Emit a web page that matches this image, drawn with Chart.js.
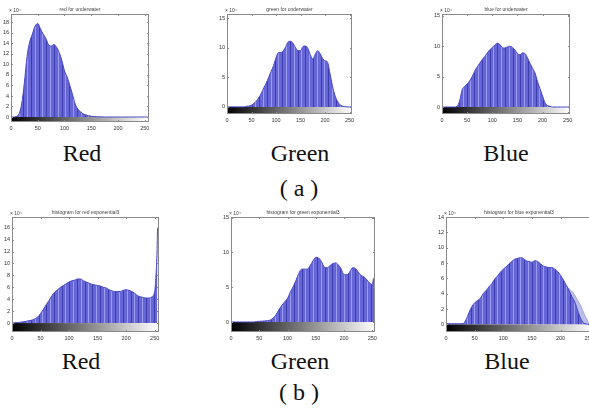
<!DOCTYPE html>
<html lang="en">
<head>
<meta charset="UTF-8">
<title>Histograms</title>
<script src="https://cdn.jsdelivr.net/npm/chart.js@4.4.1/dist/chart.umd.min.js"></script>
<style>
  body { margin: 0; background: #fff; }
  #fig { position: relative; width: 589px; height: 411px; overflow: hidden; background: #fff; }
  #fig canvas { position: absolute; }
  .lbl { position: absolute; width: 120px; text-align: center; font: 24px/24px "Liberation Serif", "Times New Roman", serif; color: #111; }
</style>
</head>
<body>
<div id="fig">
  <div class="lbl" style="left:22px;top:141px">Red</div>
  <div class="lbl" style="left:240px;top:141px">Green</div>
  <div class="lbl" style="left:446px;top:141px">Blue</div>
  <div class="lbl" style="left:239px;top:176px">( a )</div>
  <div class="lbl" style="left:21px;top:349px">Red</div>
  <div class="lbl" style="left:240px;top:349px">Green</div>
  <div class="lbl" style="left:447px;top:349px">Blue</div>
  <div class="lbl" style="left:239px;top:380px">( b )</div>
</div>
<script>
  // gray levels (x positions of the histogram samples)
  const levels = [0, 5, 10, 15, 20, 25, 30, 35, 40, 45, 50, 55, 60, 65, 70, 75, 80, 85, 90, 95,
    100, 105, 110, 115, 120, 125, 130, 135, 140, 145, 150, 155, 160, 165, 170, 175, 180, 185, 190, 195,
    200, 205, 210, 215, 220, 225, 230, 235, 240, 245, 250, 255];
  const levelsSpike = [0, 5, 10, 15, 20, 25, 30, 35, 40, 45, 50, 55, 60, 65, 70, 75, 80, 85, 90, 95,
    100, 105, 110, 115, 120, 125, 130, 135, 140, 145, 150, 155, 160, 165, 170, 175, 180, 185, 190, 195,
    200, 205, 210, 215, 220, 225, 230, 235, 240, 245, 250, 252, 254, 255];
  const fadeLevels = [210, 215, 220, 225, 230, 235, 240, 245, 250, 255];

  // counts, x 10^4
  const redUnder = [0, 0, 0.1, 0.6, 2.5, 6.5, 11.5, 14.3, 15.8, 17.3, 17.8, 16.8, 15.8, 15.0, 13.8, 13.5, 13.8, 13.3, 12.3, 10.8,
    8.8, 7.6, 6.0, 4.3, 2.5, 1.5, 1.0, 0.6, 0.4, 0.25, 0.15, 0.1, 0.05, 0.03, 0.02, 0, 0, 0, 0, 0,
    0, 0, 0, 0, 0, 0, 0, 0, 0, 0, 0, 0];
  const greenUnder = [0, 0, 0, 0, 0, 0, 0, 0, 0.1, 0.15, 0.3, 0.6, 1.0, 1.6, 2.3, 3.2, 4.0, 5.0, 6.0, 7.0,
    8.3, 9.2, 9.2, 9.5, 10.2, 11.0, 11.1, 10.7, 10.0, 9.5, 9.5, 10.2, 10.3, 9.9, 8.8, 8.1, 8.9, 9.5, 9.0, 8.2,
    7.8, 7.6, 5.7, 3.6, 2.0, 1.0, 0.4, 0.15, 0.05, 0, 0, 0];
  const blueUnder = [0, 0, 0, 0, 0, 0, 0.1, 1.0, 2.8, 3.4, 3.8, 4.3, 5.0, 5.9, 6.6, 7.2, 7.8, 8.3, 8.9, 9.4,
    9.8, 10.2, 10.5, 10.3, 9.8, 9.7, 9.9, 10.0, 9.8, 9.4, 8.8, 8.6, 8.9, 8.8, 8.1, 7.2, 6.4, 5.6, 4.2, 3.0,
    1.8, 0.7, 0.25, 0.1, 0, 0, 0, 0, 0, 0, 0, 0];
  const redExp = [0, 0.05, 0.1, 0.15, 0.2, 0.3, 0.4, 0.5, 0.7, 1.0, 1.6, 2.3, 3.1, 3.8, 4.6, 5.2, 5.6, 6.0, 6.3, 6.6,
    6.9, 7.1, 7.2, 7.4, 7.4, 7.1, 6.9, 6.7, 6.5, 6.4, 6.3, 6.2, 6.0, 5.9, 5.6, 5.4, 5.3, 5.3, 5.3, 5.5,
    5.6, 5.5, 5.3, 5.0, 4.6, 4.4, 4.3, 4.2, 4.2, 4.4, 5.3, 7.5, 11.5, 16.0];
  const greenExp = [0, 0, 0, 0, 0, 0, 0, 0, 0, 0.05, 0.1, 0.12, 0.15, 0.2, 0.3, 0.6, 1.1, 1.8, 2.4, 2.9,
    3.4, 4.3, 5.1, 6.0, 7.0, 7.6, 7.6, 7.6, 8.1, 8.8, 9.3, 9.2, 8.7, 7.9, 7.8, 8.1, 8.4, 8.5, 8.2, 7.6,
    6.8, 6.8, 7.2, 7.8, 7.7, 7.2, 6.7, 6.5, 6.1, 5.6, 5.4, 6.2, 6.6, 11.5];
  const blueExp = [0.05, 0.08, 0.08, 0.08, 0.08, 0.08, 0.1, 0.6, 1.5, 2.3, 2.8, 3.1, 3.4, 4.0, 4.4, 4.9, 5.3, 5.9, 6.3, 6.8,
    7.2, 7.5, 7.9, 8.2, 8.5, 8.6, 8.7, 8.6, 8.3, 8.2, 8.1, 8.3, 8.2, 7.9, 7.6, 7.5, 7.4, 7.4, 7.2, 6.9,
    6.4, 5.8, 5.1, 4.4, 3.6, 2.9, 1.8, 0.8, 0.2, 0.05, 0, 0];
  const blueExpFaded = [5.1, 4.6, 4.3, 3.8, 3.1, 2.5, 1.6, 0.8, 0.2, 0];

  const panels = [
    { title: 'red for underwater', x: levels, y: redUnder, L: 11, T: 14, R: 149, B: 122, xmax: 258, ymin: -0.95, ymax: 19.6, step: 2 },
    { title: 'green for underwater', x: levels, y: greenUnder, L: 227, T: 14, R: 352, B: 114, xmax: 255, ymin: -1.2, ymax: 15.7, step: 5 },
    { title: 'blue for underwater', x: levels, y: blueUnder, L: 442, T: 14, R: 570, B: 114, xmax: 254.6, ymin: -1.15, ymax: 15.3, step: 5 },
    { title: 'histogram for red exponential3', x: levelsSpike, y: redExp, L: 12, T: 217, R: 159, B: 332, xmax: 257.6, ymin: -1.5, ymax: 17.8, step: 2 },
    { title: 'histogram for green exponential3', x: levelsSpike, y: greenExp, L: 231, T: 217, R: 375, B: 332, xmax: 254.7, ymin: -1.44, ymax: 15.1, step: 5 },
    { title: 'histogram for blue exponential3', x: levels, y: blueExp, L: 446, T: 217, R: 592, B: 332, xmax: 255, ymin: -1.0, ymax: 14, step: 2,
      fadeX: fadeLevels, fadeY: blueExpFaded }
  ];

  // streaky blue fill, like the matlab stem bars
  function stripes() {
    const c = document.createElement('canvas');
    c.width = 23; c.height = 4;
    const g = c.getContext('2d');
    g.fillStyle = '#6666d8'; g.fillRect(0, 0, 23, 4);
    g.fillStyle = '#3d3dac'; [0, 8, 16].forEach(x => g.fillRect(x, 0, 1, 4));
    g.fillStyle = '#9c9cee'; [4, 12, 19].forEach(x => g.fillRect(x, 0, 1, 4));
    return g.createPattern(c, 'repeat');
  }

  const decor = {
    id: 'decor',
    beforeDatasetsDraw(chart) {
      const { ctx, chartArea: a } = chart;
      const xs = chart.scales.x, ys = chart.scales.y;
      const x0 = xs.getPixelForValue(0), x1 = xs.getPixelForValue(255), y0 = ys.getPixelForValue(0);
      const g = ctx.createLinearGradient(x0, 0, x1, 0);
      g.addColorStop(0, '#000'); g.addColorStop(1, '#fff');
      ctx.save();
      ctx.fillStyle = g;
      ctx.fillRect(x0, y0, x1 - x0, a.bottom - y0);
      ctx.restore();
    },
    afterDraw(chart, args, opts) {
      const { ctx, chartArea: a } = chart;
      const xs = chart.scales.x, ys = chart.scales.y;
      ctx.save();
      ctx.strokeStyle = '#8a8a8a';
      ctx.lineWidth = 1;
      ctx.strokeRect(a.left + 0.5, a.top + 0.5, a.right - a.left - 1, a.bottom - a.top - 1);
      ctx.beginPath();
      xs.ticks.forEach(t => {
        const px = Math.round(xs.getPixelForValue(t.value)) + 0.5;
        ctx.moveTo(px, a.bottom); ctx.lineTo(px, a.bottom - 2);
        ctx.moveTo(px, a.top); ctx.lineTo(px, a.top + 2);
      });
      ys.ticks.forEach(t => {
        const py = Math.round(ys.getPixelForValue(t.value)) + 0.5;
        ctx.moveTo(a.left, py); ctx.lineTo(a.left + 2, py);
        ctx.moveTo(a.right, py); ctx.lineTo(a.right - 2, py);
      });
      ctx.stroke();
      ctx.fillStyle = '#444';
      ctx.font = '5px "Liberation Sans", Arial, sans-serif';
      ctx.textBaseline = 'bottom';
      ctx.textAlign = 'center';
      ctx.fillText(opts.title, (a.left + a.right) / 2, a.top - 2);
      ctx.textAlign = 'left';
      ctx.fillText('\u00d7 10\u2074', a.left - 2, a.top - 1);
      ctx.restore();
    }
  };

  const fig = document.getElementById('fig');
  const fill = stripes();

  panels.forEach(p => {
    const yw = Math.min(p.L, 14), tp = 12, xh = 12, rp = 6;
    const w = p.R - p.L + yw + rp, h = p.B - p.T + tp + xh;
    const cv = document.createElement('canvas');
    cv.width = w; cv.height = h;
    cv.style.left = (p.L - yw) + 'px';
    cv.style.top = (p.T - tp) + 'px';
    cv.style.width = w + 'px';
    cv.style.height = h + 'px';
    fig.appendChild(cv);

    const datasets = [{
      data: p.x.map((v, i) => ({ x: v, y: p.y[i] })),
      fill: 'origin',
      backgroundColor: fill,
      borderColor: '#4848c4',
      borderWidth: 1,
      pointRadius: 0,
      cubicInterpolationMode: 'monotone'
    }];
    if (p.fadeX) {
      datasets.push({
        data: p.fadeX.map((v, i) => ({ x: v, y: p.fadeY[i] })),
        fill: 'origin',
        backgroundColor: 'rgba(175,178,232,0.85)',
        borderColor: 'rgba(160,163,225,0.9)',
        borderWidth: 1,
        pointRadius: 0,
        cubicInterpolationMode: 'monotone'
      });
    }

    const tickFont = { size: 5.5, family: '"Liberation Sans", Arial, sans-serif' };
    new Chart(cv, {
      type: 'line',
      data: { datasets },
      options: {
        responsive: false,
        animation: false,
        layout: { padding: { top: tp, right: rp, left: 0, bottom: 0 } },
        plugins: { legend: { display: false }, tooltip: { enabled: false }, decor: { title: p.title } },
        scales: {
          x: {
            type: 'linear', min: 0, max: p.xmax,
            grid: { display: false, drawTicks: false }, border: { display: false },
            ticks: { stepSize: 50, includeBounds: false, autoSkip: false, maxRotation: 0, font: tickFont, color: '#333', padding: 3 },
            afterFit: s => { s.height = xh; }
          },
          y: {
            min: p.ymin, max: p.ymax,
            grid: { display: false, drawTicks: false }, border: { display: false },
            ticks: { stepSize: p.step, includeBounds: false, autoSkip: false, font: tickFont, color: '#333', padding: 2 },
            afterFit: s => { s.width = yw; }
          }
        }
      },
      plugins: [decor]
    });
  });
</script>
</body>
</html>
